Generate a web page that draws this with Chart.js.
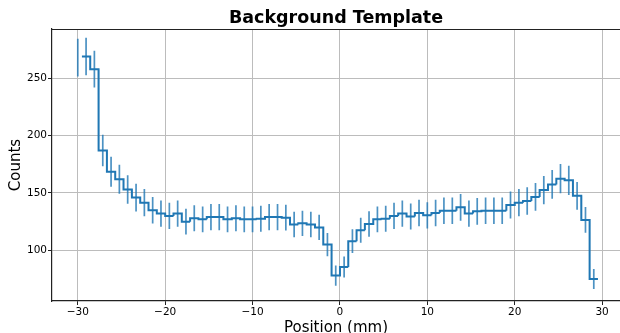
<!DOCTYPE html>
<html><head><meta charset="utf-8">
<script src="https://cdn.jsdelivr.net/npm/chart.js@4.4.1/dist/chart.umd.min.js"></script>
<style>html,body{margin:0;padding:0;background:#fff;}#c{display:block;}</style>
</head><body>
<canvas id="c" width="620" height="333"></canvas>
<script>
// Bin centres (mm)
const positions = [-30.00,-29.05,-28.10,-27.14,-26.19,-25.24,-24.29,-23.33,-22.38,-21.43,
  -20.48,-19.52,-18.57,-17.62,-16.67,-15.71,-14.76,-13.81,-12.86,-11.90,
  -10.95,-10.00,-9.05,-8.10,-7.14,-6.19,-5.24,-4.29,-3.33,-2.38,
  -1.43,-0.48,0.48,1.43,2.38,3.33,4.29,5.24,6.19,7.14,
  8.10,9.05,10.00,10.95,11.90,12.86,13.81,14.76,15.71,16.67,
  17.62,18.57,19.52,20.48,21.43,22.38,23.33,24.29,25.24,26.19,
  27.14,28.10,29.05];
// Counts per bin
const counts = [268,269,258,187,168.5,162,153,146,141.5,135,
  132,130,132,125,128,127,129,129,127,128,
  127,127,127.5,129,129,128.5,122.5,123.5,122.5,120,
  105,78,85.5,108,117.5,123,127,127.5,130,132,
  129.5,132.5,130.5,132.5,134.5,134.5,137.5,132,134,134.5,
  134.5,134.5,139.5,141.5,143,146.5,152.5,157.5,162.5,161,
  147.5,126.5,75];
// Error (half-length of each error bar)
const errors = [16.4,16.4,16.1,13.7,13.0,12.7,12.4,12.1,11.9,11.6,
  11.5,11.4,11.5,11.2,11.3,11.3,11.4,11.4,11.3,11.3,
  11.3,11.3,11.3,11.4,11.4,11.3,11.1,11.1,11.1,11.0,
  10.2,8.8,9.2,10.4,10.8,11.1,11.3,11.3,11.4,11.5,
  11.4,11.5,11.4,11.5,11.6,11.6,11.7,11.5,11.6,11.6,
  11.6,11.6,11.8,11.9,12.0,12.1,12.3,12.5,12.7,12.7,
  12.1,11.2,8.7];
const binWidth = 0.9524;
const xTicks = [-30,-20,-10,0,10,20,30];
const yTicks = [100,150,200,250];
const titleText = 'Background Template';
const xLabel = 'Position (mm)';
const yLabel = 'Counts';

const FAMILY = "'DejaVu Sans', sans-serif";

const stepPts = [];
for (let i = 1; i < positions.length; i++) {
  stepPts.push({x: positions[i] - binWidth / 2, y: counts[i]});
  stepPts.push({x: positions[i] + binWidth / 2, y: counts[i]});
}
const errPts = [];
for (let i = 0; i < positions.length; i++) {
  errPts.push({x: positions[i], y: counts[i] - errors[i]});
  errPts.push({x: positions[i], y: counts[i] + errors[i]});
  errPts.push({x: positions[i], y: null});
}

const topSpine = {
  id: 'topSpine',
  afterDraw(chart) {
    const {ctx, chartArea} = chart;
    ctx.save();
    ctx.strokeStyle = '#222';
    ctx.lineWidth = 1.2;
    ctx.beginPath();
    ctx.moveTo(chartArea.left, Math.round(chartArea.top) + 0.5);
    ctx.lineTo(chartArea.right, Math.round(chartArea.top) + 0.5);
    ctx.stroke();
    ctx.restore();
  }
};

new Chart(document.getElementById('c'), {
  type: 'line',
  data: {
    datasets: [
      {data: stepPts, borderColor: '#1f77b4', borderWidth: 2, pointRadius: 0, tension: 0, fill: false, order: 0},
      {data: errPts, borderColor: 'rgba(31,119,180,0.8)', borderWidth: 1.7, pointRadius: 0, tension: 0, fill: false, spanGaps: false, order: 1}
    ]
  },
  options: {
    responsive: false, animation: false, devicePixelRatio: 1,
    layout: {padding: 0},
    plugins: {
      legend: {display: false}, tooltip: {enabled: false},
      title: {display: true, text: titleText, fullSize: false, color: '#000',
        font: {family: FAMILY, size: 17.5, weight: 'bold', lineHeight: 1.2},
        padding: {top: 8, bottom: 0}}
    },
    scales: {
      x: {
        type: 'linear', min: -32.95, max: 32.05,
        afterBuildTicks: s => { s.ticks = xTicks.map(v => ({value: v})); },
        afterFit: s => { s.height = 32; },
        grid: {color: '#bcbcbc', lineWidth: 1, tickColor: '#222', tickLength: 4, drawTicks: true},
        border: {display: true, color: '#222', width: 1.2},
        ticks: {font: {family: FAMILY, size: 10.5}, color: '#000', padding: 1, maxRotation: 0, autoSkip: false,
          callback: v => String(v).replace('-', '\u2212')},
        title: {display: true, text: xLabel, color: '#000', font: {family: FAMILY, size: 15, lineHeight: 1},
          padding: {top: 0, bottom: -3}}
      },
      y: {
        type: 'linear', min: 55.8, max: 293,
        afterBuildTicks: s => { s.ticks = yTicks.map(v => ({value: v})); },
        afterFit: s => { s.width = 52; },
        grid: {color: '#bcbcbc', lineWidth: 1, tickColor: '#222', tickLength: 4, drawTicks: true},
        border: {display: true, color: '#222', width: 1.2},
        ticks: {font: {family: FAMILY, size: 10.5}, color: '#000', padding: 1,
          callback: v => String(v)},
        title: {display: true, text: yLabel, color: '#000', font: {family: FAMILY, size: 15, lineHeight: 1.2},
          padding: {top: 7.5, bottom: 0}}
      }
    }
  },
  plugins: [topSpine]
});
</script>
</body></html>
